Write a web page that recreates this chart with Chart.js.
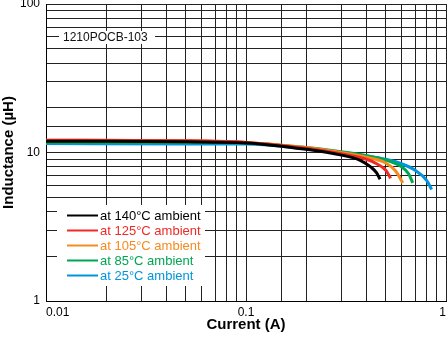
<!DOCTYPE html>
<html>
<head>
<meta charset="utf-8">
<script src="https://cdn.jsdelivr.net/npm/chart.js@4.4.1/dist/chart.umd.min.js"></script>
<style>
    body { margin: 0; background: #fff; }
    canvas { display: block; }
</style>
</head>
<body>
<canvas id="chart" width="448" height="342"></canvas>
<script>
// Inductance vs current, 1210POCB-103
const PART_NAME = '1210POCB-103';

const SERIES_LABELS = [
    'at 140°C ambient',
    'at 125°C ambient',
    'at 105°C ambient',
    'at 85°C ambient',
    'at 25°C ambient'
];

const SERIES_COLORS = ['#000000', '#ee2a24', '#f58a1f', '#00a651', '#0095da'];

const X_TICK_VALUES = [0.01, 0.1, 1];
const X_TICK_LABELS = ['0.01', '0.1', '1'];
const Y_TICK_VALUES = [1, 10, 100];
const Y_TICK_LABELS = ['1', '10', '100'];

const current140 = [0.01, 0.02, 0.05, 0.1, 0.2, 0.3, 0.37, 0.42, 0.45, 0.468];
const induct140 = [11.9, 11.9, 11.8, 11.6, 10.5, 9.6, 8.9, 8.0, 7.3, 6.6];

const current125 = [0.01, 0.05, 0.1, 0.2, 0.3, 0.4, 0.45, 0.5, 0.529];
const induct125 = [12.1, 12.0, 11.7, 10.7, 9.8, 9.0, 8.4, 7.6, 6.7];

const current105 = [0.01, 0.05, 0.1, 0.2, 0.3, 0.4, 0.5, 0.56, 0.608];
const induct105 = [12.1, 12.0, 11.7, 10.8, 10.0, 9.3, 8.5, 7.5, 6.24];

const current85 = [0.01, 0.05, 0.1, 0.2, 0.3, 0.4, 0.5, 0.6, 0.65, 0.682];
const induct85 = [11.7, 11.7, 11.6, 10.8, 10.1, 9.5, 8.9, 8.0, 7.2, 6.24];

const current25 = [0.01, 0.05, 0.1, 0.2, 0.3, 0.4, 0.5, 0.6, 0.7, 0.8, 0.848];
const induct25 = [11.5, 11.4, 11.4, 10.6, 10.0, 9.5, 9.0, 8.4, 7.6, 6.5, 5.64];

const SERIES_X = [current140, current125, current105, current85, current25];
const SERIES_Y = [induct140, induct125, induct105, induct85, induct25];

const FONT_FAMILY = '"Liberation Sans", Arial, Helvetica, sans-serif';

function tickLabel(value, values, labels) {
    for (let i = 0; i < values.length; i++) {
        if (Math.abs(Math.log10(value) - Math.log10(values[i])) < 1e-6) {
            return labels[i];
        }
    }
    return '';
}

// part name box and legend, drawn over the grid with white backgrounds
const annotations = {
    id: 'annotations',
    afterDatasetsDraw(chart) {
        const ctx = chart.ctx;
        const area = chart.chartArea;
        const yScale = chart.scales.y;
        ctx.save();

        // part name sitting on the 60 uH grid line
        const nameY = yScale.getPixelForValue(60);
        ctx.fillStyle = '#ffffff';
        ctx.fillRect(area.left + 13, nameY - 6, 96, 13);
        ctx.font = '12px ' + FONT_FAMILY;
        ctx.fillStyle = '#111111';
        ctx.textAlign = 'left';
        ctx.textBaseline = 'middle';
        ctx.fillText(PART_NAME, area.left + 17, nameY + 0.5);

        // legend
        ctx.fillStyle = '#ffffff';
        ctx.fillRect(area.left + 11, 205, 148, 81);
        ctx.font = '13px ' + FONT_FAMILY;
        chart.data.datasets.forEach((ds, i) => {
            const rowY = 215.5 + i * 15;
            ctx.strokeStyle = ds.borderColor;
            ctx.lineWidth = 2;
            ctx.beginPath();
            ctx.moveTo(area.left + 21, rowY);
            ctx.lineTo(area.left + 52, rowY);
            ctx.stroke();
            ctx.fillStyle = ds.borderColor;
            ctx.fillText(ds.label, area.left + 54, rowY + 0.5);
        });
        ctx.restore();
    }
};

const datasets = SERIES_LABELS.map((label, i) => ({
    label: label,
    data: SERIES_X[i].map((x, j) => ({ x: x, y: SERIES_Y[i][j] })),
    borderColor: SERIES_COLORS[i],
    backgroundColor: SERIES_COLORS[i],
    borderWidth: 3,
    pointRadius: 0,
    cubicInterpolationMode: 'monotone',
    fill: false
}));

new Chart(document.getElementById('chart'), {
    type: 'line',
    data: { datasets: datasets },
    options: {
        responsive: false,
        animation: false,
        layout: { padding: { top: 4, right: 2, left: 0, bottom: 0 } },
        plugins: {
            legend: { display: false },
            tooltip: { enabled: false }
        },
        scales: {
            x: {
                type: 'logarithmic',
                min: 0.01,
                max: 1,
                grid: { color: '#222222', lineWidth: 1, drawTicks: false },
                border: { color: '#000000', width: 1 },
                ticks: {
                    autoSkip: false,
                    maxRotation: 0,
                    align: 'inner',
                    padding: 4,
                    color: '#000000',
                    font: { family: FONT_FAMILY, size: 12 },
                    callback: (v) => tickLabel(v, X_TICK_VALUES, X_TICK_LABELS)
                },
                title: {
                    display: true,
                    text: 'Current (A)',
                    color: '#000000',
                    font: { family: FONT_FAMILY, size: 15, weight: 'bold' },
                    padding: { top: 0, bottom: 8 }
                },
                afterFit(scale) {
                    scale.height = 41;
                    scale.paddingLeft = 0;
                    scale.paddingRight = 0;
                }
            },
            y: {
                type: 'logarithmic',
                min: 1,
                max: 100,
                grid: { color: '#222222', lineWidth: 1, drawTicks: false },
                border: { color: '#000000', width: 1 },
                ticks: {
                    autoSkip: false,
                    padding: 6,
                    color: '#000000',
                    font: { family: FONT_FAMILY, size: 12 },
                    callback: (v) => tickLabel(v, Y_TICK_VALUES, Y_TICK_LABELS)
                },
                title: {
                    display: true,
                    text: 'Inductance (µH)',
                    color: '#000000',
                    font: { family: FONT_FAMILY, size: 15, weight: 'bold' },
                    padding: { top: 0, bottom: 0 }
                },
                afterFit(scale) {
                    scale.width = 46;
                    scale.paddingTop = 0;
                    scale.paddingBottom = 0;
                }
            }
        }
    },
    plugins: [annotations]
});
</script>
</body>
</html>
